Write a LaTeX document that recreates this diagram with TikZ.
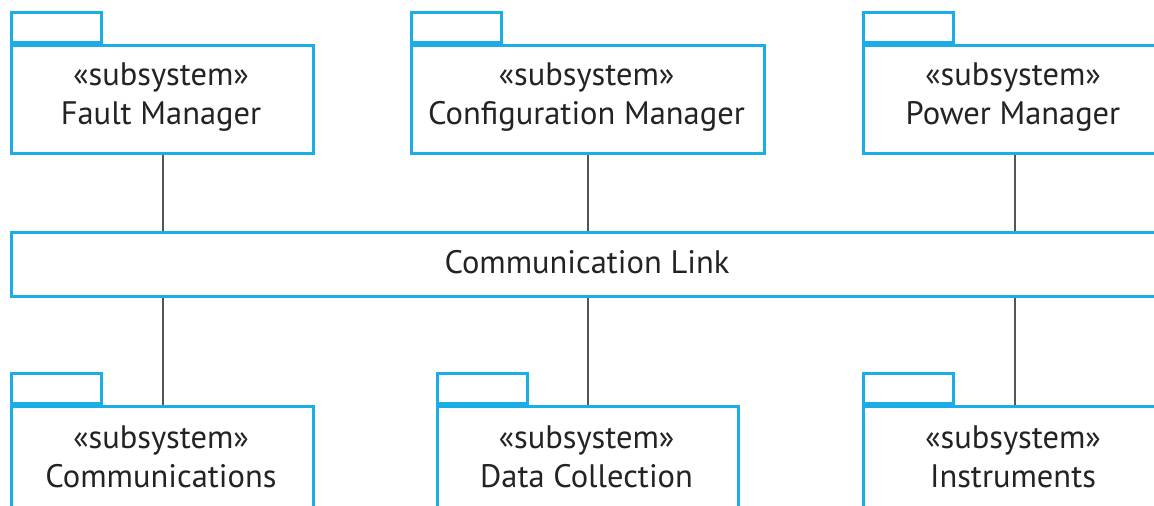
\documentclass[tikz,border=0pt]{standalone}
\usepackage{fontspec}
\setmainfont{PT Sans}
\definecolor{pkgblue}{RGB}{27,174,230}
\definecolor{txtgray}{RGB}{35,35,35}
\definecolor{linkgray}{RGB}{85,85,85}
\begin{document}
\begin{tikzpicture}[x=1pt,y=-1pt,
  pkgbox/.style={draw=pkgblue, line width=3pt, fill=white, inner sep=0pt, anchor=north west},
  pkgtab/.style={draw=pkgblue, line width=3pt, fill=white, inner sep=0pt, anchor=south west, minimum width=90pt, minimum height=30pt},
  lbl/.style={text=txtgray, font=\fontsize{32.5}{39}\selectfont, inner sep=0pt, align=center},
  conn/.style={draw=linkgray, line width=2pt}]
\useasboundingbox (0,0) rectangle (1154,506);
\clip (0,0) rectangle (1154,506);
% top packages
\node[pkgtab] (fmtab) at (10,44) {};
\node[pkgbox, minimum width=302pt, minimum height=108pt] (fm) at (10,44) {};
\node[pkgtab] (cmtab) at (410,44) {};
\node[pkgbox, minimum width=353pt, minimum height=108pt] (cm) at (410,44) {};
\node[pkgtab] (pmtab) at (862,44) {};
\node[pkgbox, minimum width=302pt, minimum height=108pt] (pm) at (862,44) {};
% link
\node[pkgbox, minimum width=1200pt, minimum height=64pt] (link) at (10,231) {};
% bottom packages
\node[pkgtab] (cotab) at (10,405) {};
\node[pkgbox, minimum width=302pt, minimum height=160pt] (co) at (10,405) {};
\node[pkgtab] (dctab) at (436,405) {};
\node[pkgbox, minimum width=301pt, minimum height=160pt] (dc) at (436,405) {};
\node[pkgtab] (intab) at (862,405) {};
\node[pkgbox, minimum width=302pt, minimum height=160pt] (in) at (862,405) {};
% labels
\node[lbl] (fmt) at (161,97) {«subsystem»\\Fault Manager};
\node[lbl] (cmt) at (586.5,97) {«subsystem»\\Configuration Manager};
\node[lbl] (pmt) at (1013,97) {«subsystem»\\Power Manager};
\node[lbl] (lkt) at (587,262) {Communication Link};
\node[lbl] (cot) at (161,457) {«subsystem»\\Communications};
\node[lbl] (dct) at (586.5,457) {«subsystem»\\Data Collection};
\node[lbl] (int) at (1013,457) {«subsystem»\\Instruments};
% connectors
\draw[conn] (fm.south) -- (fm.south |- link.north);
\draw[conn] (cm.south) -- (cm.south |- link.north);
\draw[conn] (pm.south) -- (pm.south |- link.north);
\draw[conn] (co.north) -- (co.north |- link.south);
\draw[conn] (dc.north) -- (dc.north |- link.south);
\draw[conn] (in.north) -- (in.north |- link.south);
\end{tikzpicture}
\end{document}
